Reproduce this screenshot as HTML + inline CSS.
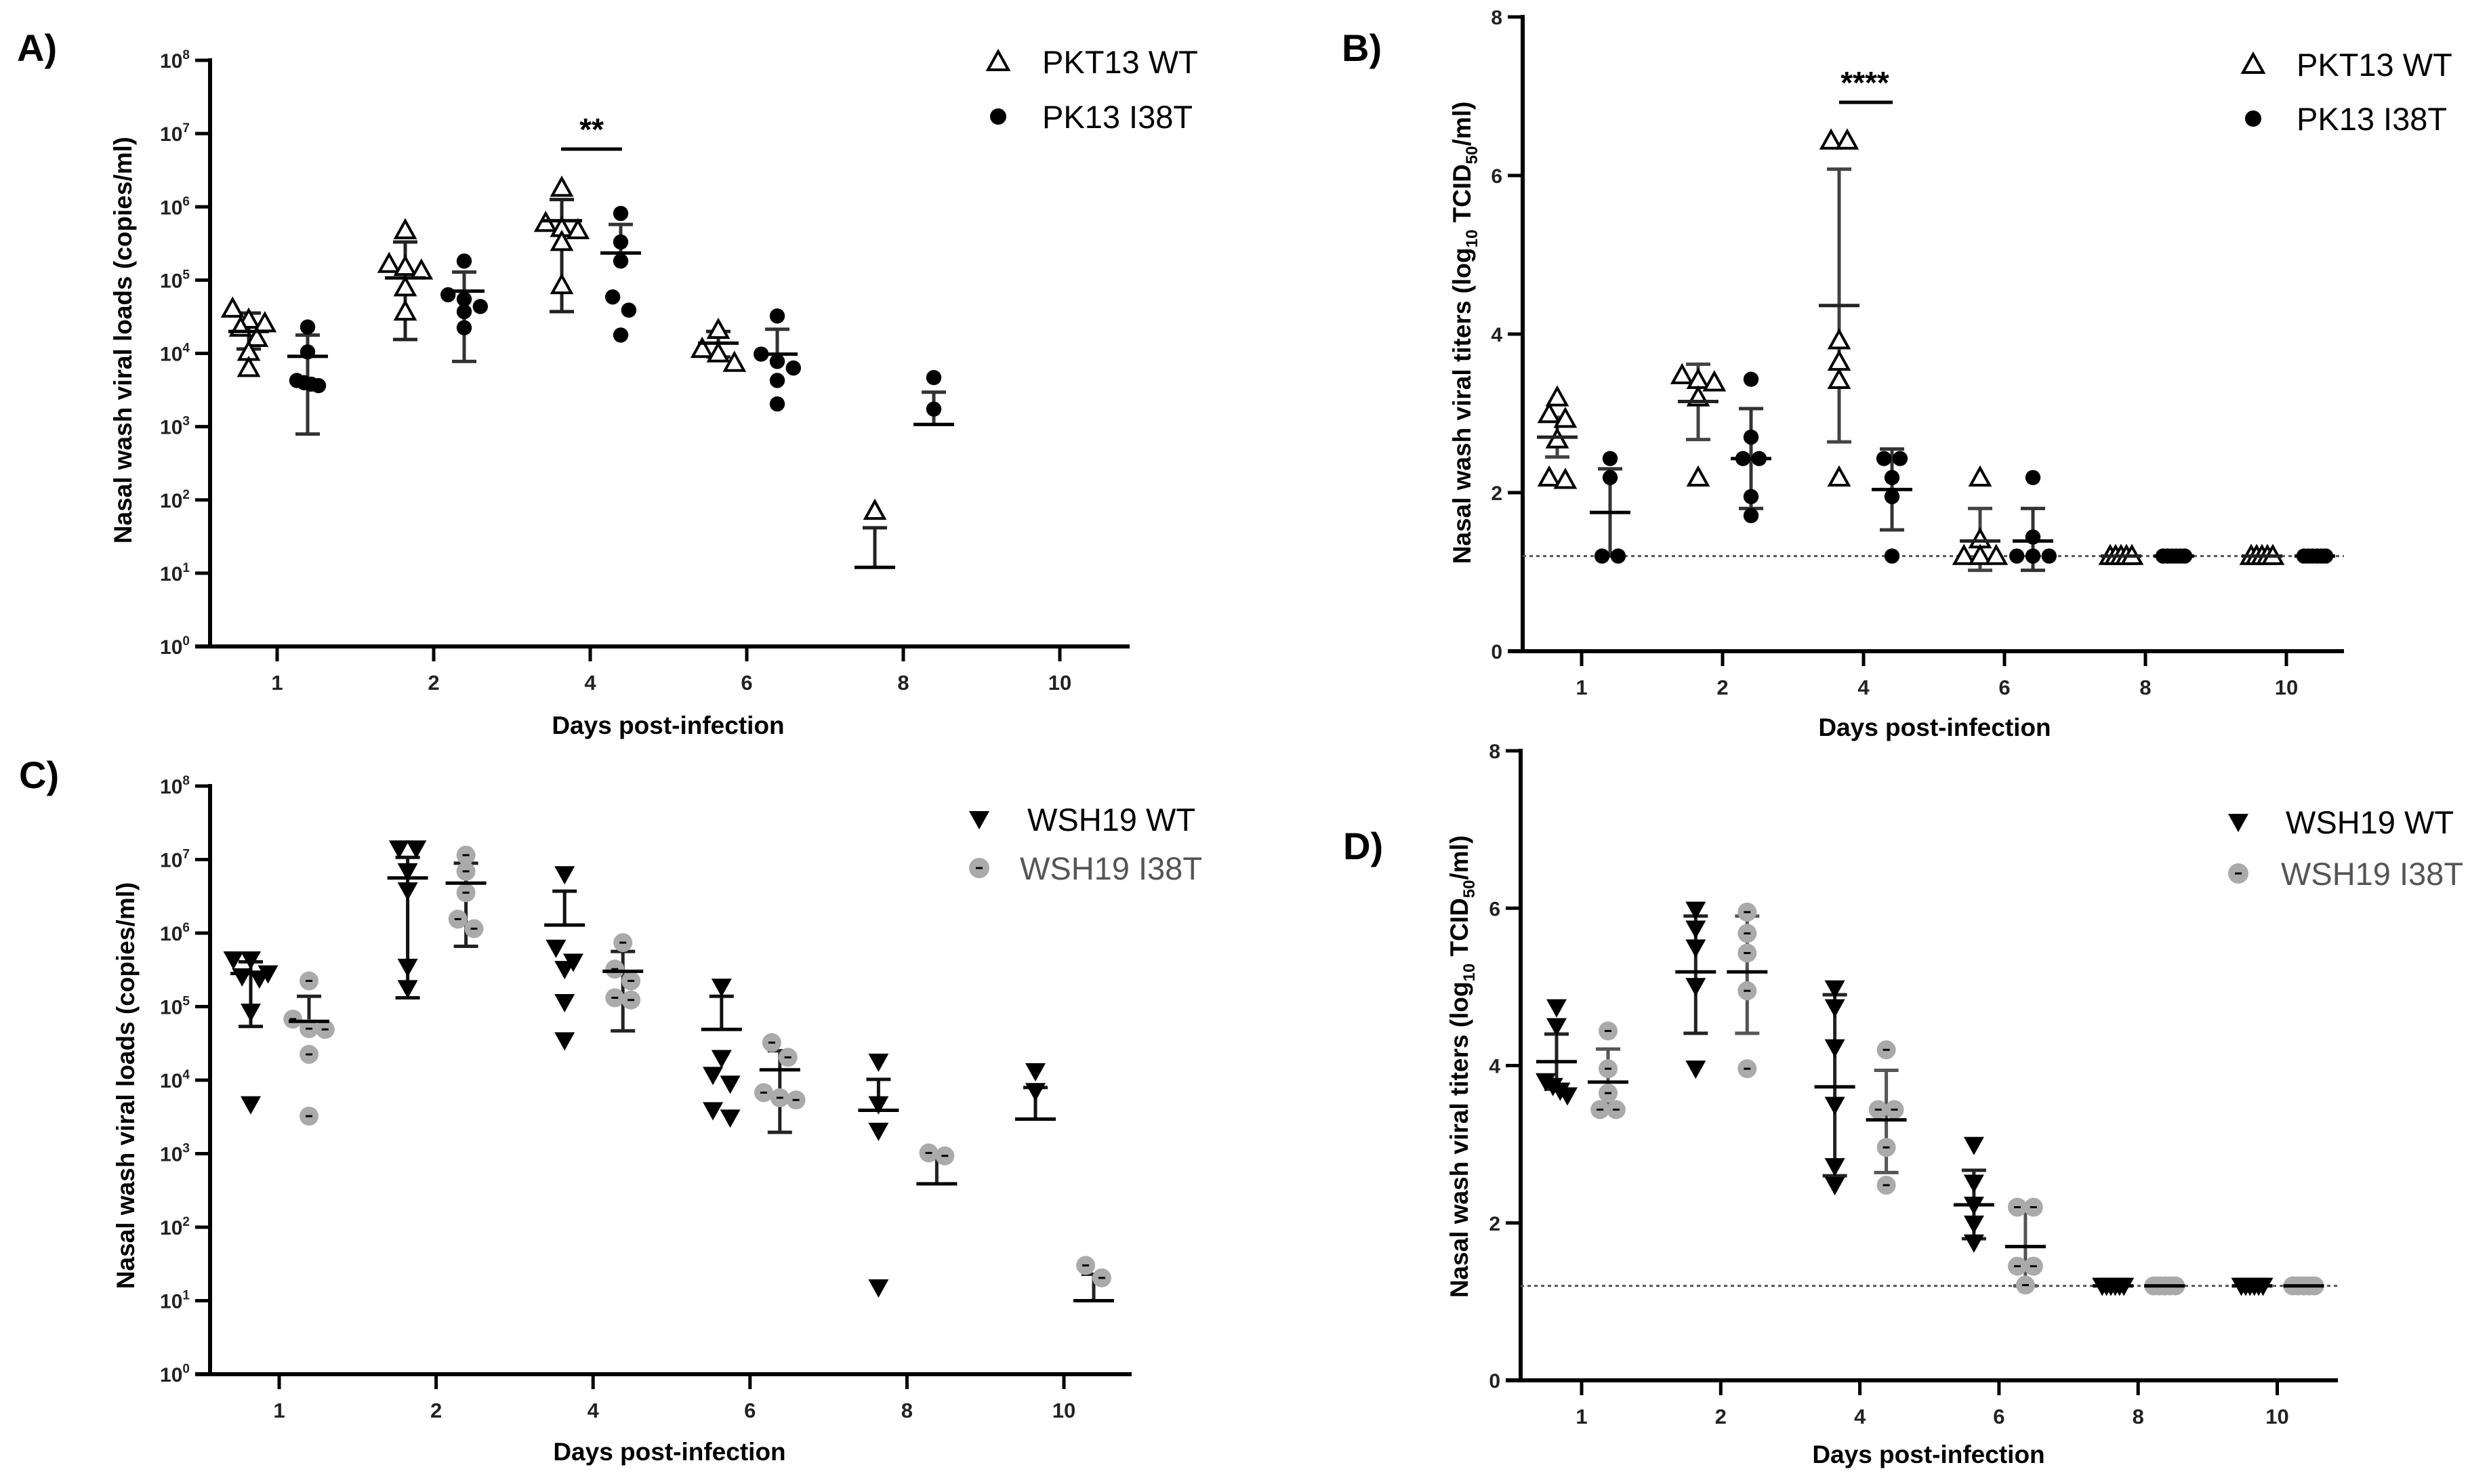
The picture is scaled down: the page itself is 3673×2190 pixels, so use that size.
<!DOCTYPE html>
<html><head><meta charset="utf-8"><style>
html,body{margin:0;padding:0;background:#fff;}
svg{display:block;font-family:"Liberation Sans",sans-serif;}
</style></head><body>
<svg id="fig" width="3673" height="2190" viewBox="0 0 3673 2190" xmlns="http://www.w3.org/2000/svg"></svg>
<script>
const days=["1","2","4","6","8","10"];
// Panel A (log10 copies/ml)
const aWT=[[4.61,4.46,4.41,4.35,4.21,4.02,3.80],[5.68,5.22,5.18,5.13,4.90,4.57],[6.26,5.78,5.71,5.68,5.52,4.93],[4.32,4.06,4.0,3.87],[1.85],null];
const aWTmean=[4.30,5.03,5.81,4.14,1.08,null];
const aWTlo=[4.06,4.19,4.57,3.95,null,null];
const aWThi=[4.55,5.52,6.10,4.30,1.62,null];
const aMU=[[4.36,4.02,3.63,3.60,3.58,3.56],[5.26,4.80,4.74,4.64,4.57,4.35],[5.91,5.52,5.26,4.77,4.59,4.25],[4.51,3.99,3.89,3.80,3.63,3.31],[3.67,3.24],null];
const aMUmean=[3.96,4.85,5.37,3.99,3.03,null];
const aMUlo=[2.90,3.89,null,null,null,null];
const aMUhi=[4.25,5.11,5.76,4.33,3.47,null];
// Panel B (log10 TCID50/ml)
const bWT=[[3.2,2.99,2.93,2.67,2.19,2.16],[3.48,3.42,3.39,3.2,2.19],[6.44,6.44,3.92,3.65,3.42,2.19],[2.19,1.41,1.2,1.2,1.2],[1.2,1.2,1.2,1.2,1.2],[1.2,1.2,1.2,1.2,1.2]];
const bWTmean=[2.70,3.15,4.36,1.39,1.2,1.2];
const bWTlo=[2.45,2.67,2.64,1.02,null,null];
const bWThi=[2.95,3.62,6.08,1.80,null,null];
const bMU=[[2.43,2.19,1.2,1.2],[3.43,2.70,2.43,2.43,1.95,1.71],[2.43,2.43,2.19,1.95,1.2],[2.19,1.44,1.2,1.2,1.2],[1.2,1.2,1.2,1.2,1.2,1.2],[1.2,1.2,1.2,1.2,1.2,1.2]];
const bMUmean=[1.75,2.43,2.04,1.39,1.2,1.2];
const bMUlo=[1.2,1.80,1.53,1.02,null,null];
const bMUhi=[2.3,3.06,2.55,1.80,null,null];
// Panel C (log10 copies/ml)
const cWT=[[5.64,5.64,5.45,5.41,5.38,4.93,3.67],[7.15,7.15,6.84,6.58,5.54,5.25],[6.80,5.80,5.61,5.51,5.06,4.54],[5.27,4.30,4.07,3.95,3.59,3.49],[4.25,3.67,3.31,1.18],[4.12,3.85]];
const cWTmean=[5.45,6.75,6.11,4.69,3.59,3.47];
const cWTlo=[4.73,5.12,null,null,null,null];
const cWThi=[5.61,7.03,6.57,5.14,4.01,3.90];
const cMU=[[5.35,4.83,4.70,4.69,4.35,3.51],[7.06,6.84,6.55,6.19,6.06],[5.87,5.51,5.35,5.12,5.09],[4.51,4.31,3.83,3.76,3.73],[2.97,3.01],[1.48,1.31]];
const cMUmean=[4.80,6.68,5.48,4.14,2.59,1.0];
const cMUlo=[null,5.82,4.67,3.29,null,null];
const cMUhi=[5.14,6.95,5.75,4.40,2.97,1.36];
// Panel D (log10 TCID50/ml)
const dWT=[[4.74,4.50,3.80,3.74,3.68,3.62],[5.98,5.74,5.50,5.01,3.96],[4.98,4.74,4.23,3.50,2.72,2.48],[2.99,2.51,2.23,1.99,1.75],[1.2,1.2,1.2,1.2,1.2,1.2],[1.2,1.2,1.2,1.2,1.2,1.2]];
const dWTmean=[4.05,5.19,3.73,2.23,1.2,1.2];
const dWTlo=[3.70,4.41,2.60,1.80,null,null];
const dWThi=[4.40,5.90,4.90,2.67,null,null];
const dMU=[[4.44,3.96,3.65,3.44,3.44],[5.95,5.68,5.43,4.95,3.96],[4.20,3.44,3.44,2.96,2.48],[2.20,2.20,1.45,1.45,1.21],[1.2,1.2,1.2,1.2,1.2],[1.2,1.2,1.2,1.2,1.2]];
const dMUmean=[3.79,5.19,3.31,1.70,1.2,1.2];
const dMUlo=[3.50,4.41,2.64,1.20,null,null];
const dMUhi=[4.21,5.90,3.94,2.20,null,null];
const logTicks=["0","1","2","3","4","5","6","7","8"];
const linTicks=["0","2","4","6","8"];

const NS="http://www.w3.org/2000/svg";
const svg=document.getElementById('fig');
function mk(tag,attrs,parent){const e=document.createElementNS(NS,tag);for(const k in attrs)e.setAttribute(k,attrs[k]);(parent||svg).appendChild(e);return e;}

function panel(cfg){
  const g=mk('g',{});
  
  
  const ys=v=>cfg.yBot-v/8*(cfg.yBot-cfg.yTop);
  const xs=i=>cfg.first+i*cfg.step;
  const L=mk('text',{x:cfg.letter[0],y:cfg.letter[1],'font-size':56,'font-weight':'bold'},g);L.textContent=cfg.letterText;
  
  
  const ya=mk('line',{x1:cfg.ax,y1:cfg.yTop-3,x2:cfg.ax,y2:cfg.yBot,stroke:'#000','stroke-width':6},g);
  
  
  const xa=mk('line',{x1:cfg.ax-22,y1:cfg.yBot,x2:cfg.xEnd,y2:cfg.yBot,stroke:'#000','stroke-width':6},g);
  
  
  const tl=cfg.log?logTicks:linTicks;
  tl.forEach(t=>{
    const v=+t, y=ys(v);
    mk('line',{x1:cfg.ax-22,y1:y,x2:cfg.ax,y2:y,stroke:'#000','stroke-width':5},g);
    const tx=mk('text',{x:cfg.ax-30,y:y+11,'font-size':30,'font-weight':'bold','text-anchor':'end',fill:'#222'},g);
    
    
    if(cfg.log){tx.textContent='10';const s=mk('tspan',{dy:-13,'font-size':19},tx);s.textContent=t;}
    else tx.textContent=t;
  });
  days.forEach((d,i)=>{
    const x=xs(i);
    mk('line',{x1:x,y1:cfg.yBot,x2:x,y2:cfg.yBot+22,stroke:'#000','stroke-width':5},g);
    const tx=mk('text',{x:x,y:cfg.yBot+64,'font-size':31,'font-weight':'bold','text-anchor':'middle',fill:'#222'},g);
    tx.textContent=d;
    
    
  });
  const xt=mk('text',{x:cfg.xTitle[0],y:cfg.xTitle[1],'font-size':37,'font-weight':'bold','text-anchor':'middle'},g);
  xt.textContent='Days post-infection';
  
  
  const yt=mk('text',{x:0,y:0,'font-size':37,'font-weight':'bold','text-anchor':'middle',transform:`translate(${cfg.yTitle[0]},${cfg.yTitle[1]}) rotate(-90)`},g);
  
  
  if(cfg.log){yt.textContent='Nasal wash viral loads  (copies/ml)';}
  else{yt.textContent='Nasal wash viral titers (log';const s1=mk('tspan',{dy:10,'font-size':24},yt);s1.textContent='10';const s2=mk('tspan',{dy:-10},yt);s2.textContent=' TCID';const s3=mk('tspan',{dy:10,'font-size':24},yt);s3.textContent='50';const s4=mk('tspan',{dy:-10},yt);s4.textContent='/ml)';}
  if(!cfg.log){
    const l=mk('line',{x1:cfg.ax,y1:ys(1.2),x2:cfg.xEnd,y2:ys(1.2),stroke:'#555','stroke-width':3,'stroke-dasharray':'5,5'},g);
    
    
  }
  cfg.series.forEach(s=>{
    const sg=mk('g',{},g);
    
    
    s.pts.forEach((arr,i)=>{
      if(!arr)return;
      const cx=xs(i)+s.off;
      const col=s.barCol;
      if(s.mean[i]!=null){
        const top=s.hi[i]!=null?s.hi[i]:s.mean[i], bot=s.lo[i]!=null?s.lo[i]:s.mean[i];
        mk('line',{x1:cx,y1:ys(top),x2:cx,y2:ys(bot),stroke:col,'stroke-width':5},sg);
        if(s.hi[i]!=null)mk('line',{x1:cx-18,y1:ys(s.hi[i]),x2:cx+18,y2:ys(s.hi[i]),stroke:col,'stroke-width':5},sg);
        if(s.lo[i]!=null)mk('line',{x1:cx-18,y1:ys(s.lo[i]),x2:cx+18,y2:ys(s.lo[i]),stroke:col,'stroke-width':5},sg);
      }
      const sorted=arr.map((v,k)=>({v,k})).sort((a,b)=>b.v-a.v);
      const groups=[];
      sorted.forEach(p=>{const last=groups[groups.length-1];if(last&&Math.abs(ys(last[0].v)-ys(p.v))<s.size*0.8)last.push(p);else groups.push([p]);});
      groups.forEach(gr=>{
        const n=gr.length;
        const sp=n<=3?s.size*0.85:Math.min(s.size*0.85,32/(n-1));
        gr.forEach((p,j)=>{
          const px=cx+(j-(n-1)/2)*sp, py=ys(p.v);
          drawMarker(sg,s.shape,px,py,s.size,'data-point');
        });
      });
      if(s.mean[i]!=null){
        const m=mk('line',{x1:cx-30,y1:ys(s.mean[i]),x2:cx+30,y2:ys(s.mean[i]),stroke:s.meanCol,'stroke-width':5},sg);
        
        
      }
    });
  });
  cfg.legend.forEach(lg=>{
    const lgG=mk('g',{},g);
    
    
    drawMarker(lgG,lg.shape,lg.mx,lg.my,30,'legend-marker');
    const t=mk('text',{x:lg.tx,y:lg.my+17,'font-size':47,fill:lg.col||'#000'},lgG);
    t.textContent=lg.text;
  });
  if(cfg.sig){
    const st=mk('text',{x:cfg.sig.x,y:cfg.sig.y,'font-size':46,'font-weight':'bold','text-anchor':'middle'},g);
    st.textContent=cfg.sig.text;
    
    
    const sl=mk('line',{x1:cfg.sig.x1,y1:cfg.sig.ly,x2:cfg.sig.x2,y2:cfg.sig.ly,stroke:'#000','stroke-width':5},g);
    
    
  }
}
function drawMarker(parent,shape,x,y,s,name){
  let e;
  const h=s/2;
  if(shape==='tri-open'){
    e=mk('polygon',{points:`${x},${y-h} ${x-h},${y+h*0.8} ${x+h},${y+h*0.8}`,fill:'#fff',stroke:'#000','stroke-width':4},parent);
  }else if(shape==='dot'){
    e=mk('circle',{cx:x,cy:y,r:h*0.8,fill:'#000'},parent);
  }else if(shape==='tri-down'){
    e=mk('polygon',{points:`${x-h},${y-h*0.8} ${x+h},${y-h*0.8} ${x},${y+h}`,fill:'#000'},parent);
  }else{
    e=mk('g',{},parent);
    mk('circle',{cx:x,cy:y,r:h,fill:'#aaa'},e);
    mk('rect',{x:x-5,y:y-1.5,width:10,height:3,fill:'#000'},e);
  }
  
  
}

panel({name:'panel-a',letterText:'A)',letter:[25,90],log:true,ax:310,xEnd:1667,yTop:89,yBot:954,first:409,step:231,
  xTitle:[986,1083],yTitle:[194,502],
  sig:{text:'**',x:873,y:207,x1:828,x2:918,ly:220},
  series:[
    {name:'series-pkt13-wt',shape:'tri-open',off:-42,size:28,pts:aWT,mean:aWTmean,lo:aWTlo,hi:aWThi,barCol:'#222',meanCol:'#000'},
    {name:'series-pk13-i38t',shape:'dot',off:45,size:28,pts:aMU,mean:aMUmean,lo:aMUlo,hi:aMUhi,barCol:'#333',meanCol:'#000'}],
  legend:[{shape:'tri-open',mx:1473,my:91,tx:1538,text:'PKT13 WT'},{shape:'dot',mx:1473,my:172,tx:1538,text:'PK13 I38T'}]
});
panel({name:'panel-b',letterText:'B)',letter:[1980,90],log:false,ax:2247,xEnd:3459,yTop:25,yBot:961,first:2334,step:208,
  xTitle:[2855,1086],yTitle:[2170,491],
  sig:{text:'****',x:2752,y:138,x1:2714,x2:2793,ly:151},
  series:[
    {name:'series-pkt13-wt',shape:'tri-open',off:-36,size:28,pts:bWT,mean:bWTmean,lo:bWTlo,hi:bWThi,barCol:'#444',meanCol:'#222'},
    {name:'series-pk13-i38t',shape:'dot',off:42,size:28,pts:bMU,mean:bMUmean,lo:bMUlo,hi:bMUhi,barCol:'#333',meanCol:'#000'}],
  legend:[{shape:'tri-open',mx:3325,my:95,tx:3389,text:'PKT13 WT'},{shape:'dot',mx:3325,my:175,tx:3389,text:'PK13 I38T'}]
});
panel({name:'panel-c',letterText:'C)',letter:[28,1163],log:true,ax:310,xEnd:1670,yTop:1160,yBot:2028,first:412,step:231.6,
  xTitle:[988,2155],yTitle:[198,1602],
  series:[
    {name:'series-wsh19-wt',shape:'tri-down',off:-42,size:30,pts:cWT,mean:cWTmean,lo:cWTlo,hi:cWThi,barCol:'#111',meanCol:'#000'},
    {name:'series-wsh19-i38t',shape:'gray-dot',off:44,size:28,pts:cMU,mean:cMUmean,lo:cMUlo,hi:cMUhi,barCol:'#222',meanCol:'#000'}],
  legend:[{shape:'tri-down',mx:1445,my:1209,tx:1516,text:'WSH19 WT'},{shape:'gray-dot',mx:1445,my:1281,tx:1505,text:'WSH19 I38T',col:'#555'}]
});
panel({name:'panel-d',letterText:'D)',letter:[1982,1268],log:false,ax:2244,xEnd:3450,yTop:1108,yBot:2037,first:2334,step:205.3,
  xTitle:[2846,2159],yTitle:[2166,1574],
  series:[
    {name:'series-wsh19-wt',shape:'tri-down',off:-37,size:30,pts:dWT,mean:dWTmean,lo:dWTlo,hi:dWThi,barCol:'#222',meanCol:'#000'},
    {name:'series-wsh19-i38t',shape:'gray-dot',off:39,size:28,pts:dMU,mean:dMUmean,lo:dMUlo,hi:dMUhi,barCol:'#555',meanCol:'#000'}],
  legend:[{shape:'tri-down',mx:3303,my:1213,tx:3373,text:'WSH19 WT'},{shape:'gray-dot',mx:3303,my:1289,tx:3366,text:'WSH19 I38T',col:'#555'}]
});
</script>
</body></html>
